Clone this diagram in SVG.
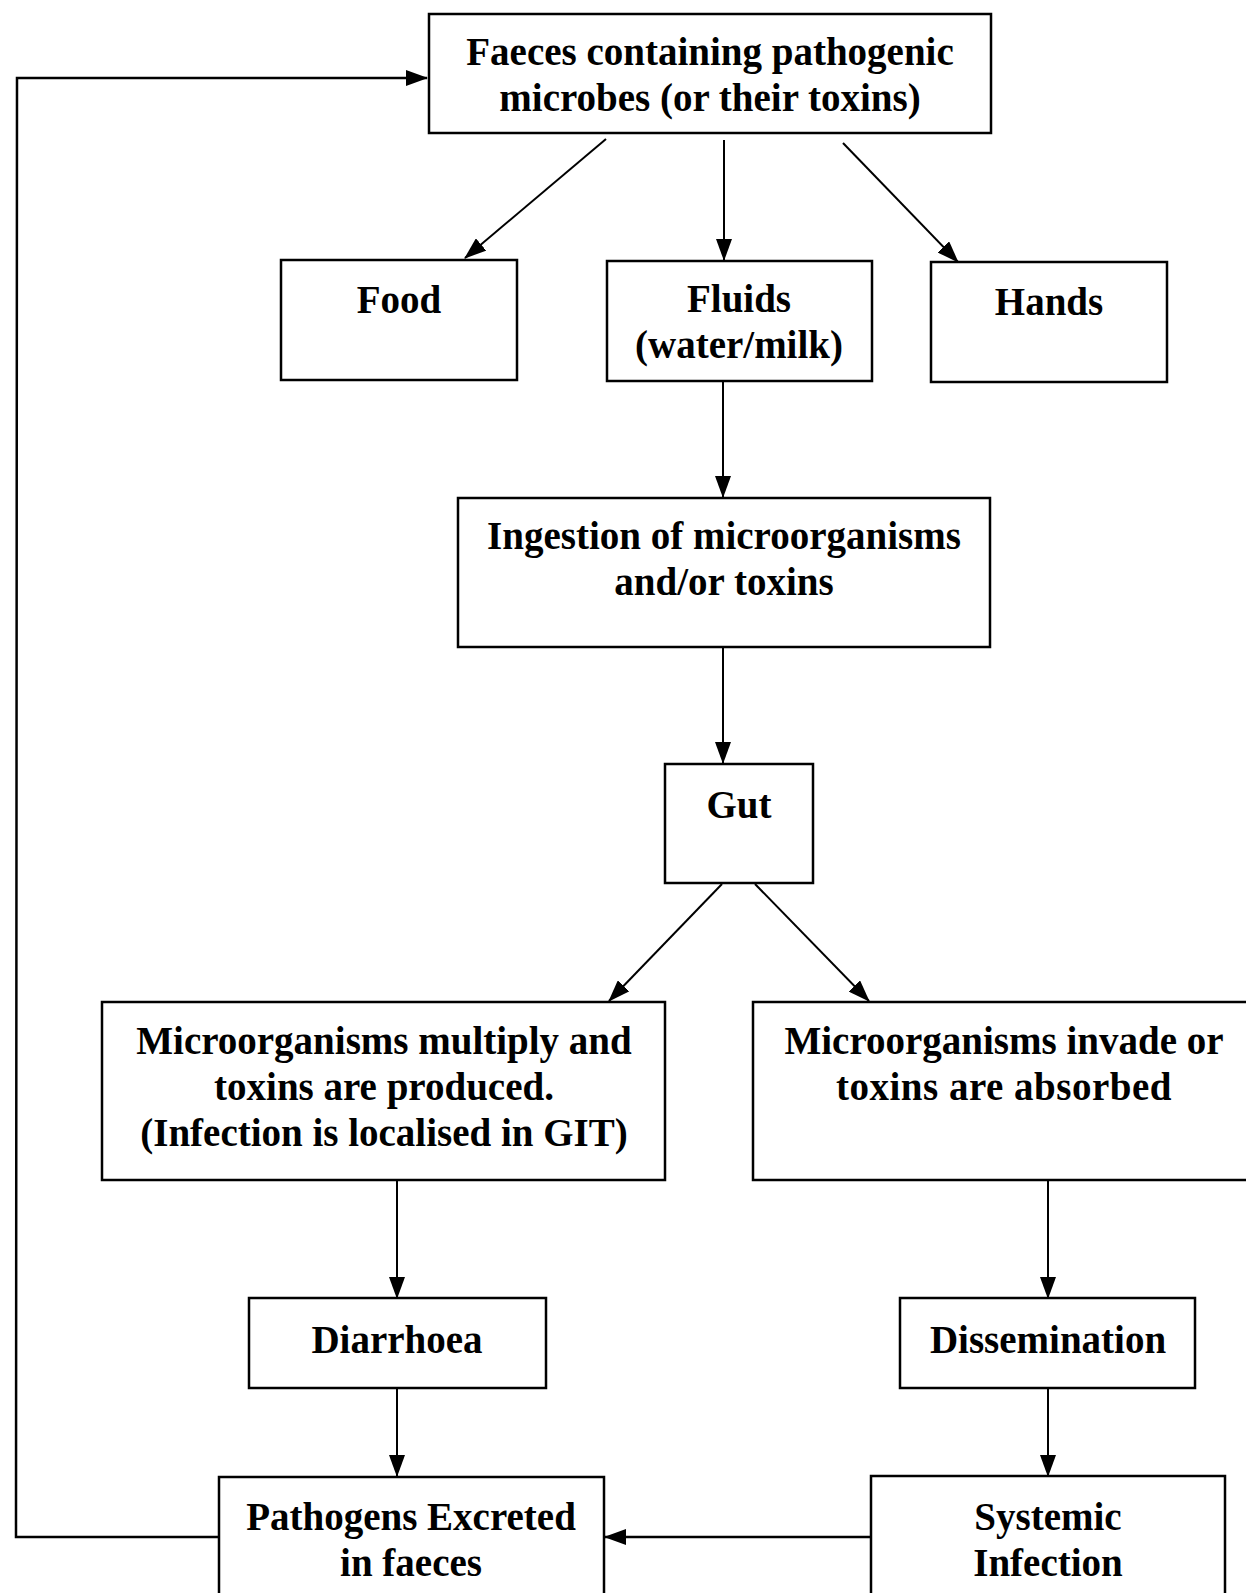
<svg xmlns="http://www.w3.org/2000/svg" width="1246" height="1593" viewBox="0 0 1246 1593">
<style>
.box{fill:#fff;stroke:#000;stroke-width:2.5}
.t{font-family:"Liberation Serif","Times New Roman",serif;font-weight:bold;font-size:39px;fill:#000;text-anchor:middle}
.c{fill:none;stroke:#000;stroke-width:2}
</style>
<defs>
<marker id="ah" markerUnits="userSpaceOnUse" markerWidth="22" markerHeight="16" refX="21" refY="8" orient="auto">
<path d="M0,0 L22,8 L0,16 z" fill="#000"/>
</marker>
</defs>
<rect width="1246" height="1593" fill="#fff"/>
<g id="connectors">
<polyline class="c" points="219,1537 16,1537 17,78 427,78" marker-end="url(#ah)" style="stroke-width:2.5"/>
<line class="c" x1="606" y1="139" x2="465" y2="258" marker-end="url(#ah)"/>
<line class="c" x1="724" y1="140" x2="724" y2="260" marker-end="url(#ah)"/>
<line class="c" x1="843" y1="143" x2="958" y2="262" marker-end="url(#ah)"/>
<line class="c" x1="723" y1="381" x2="723" y2="497" marker-end="url(#ah)"/>
<line class="c" x1="723" y1="647" x2="723" y2="763" marker-end="url(#ah)"/>
<line class="c" x1="722" y1="884" x2="609" y2="1001" marker-end="url(#ah)"/>
<line class="c" x1="755" y1="884" x2="869" y2="1001" marker-end="url(#ah)"/>
<line class="c" x1="397" y1="1180" x2="397" y2="1298" marker-end="url(#ah)"/>
<line class="c" x1="1048" y1="1180" x2="1048" y2="1298" marker-end="url(#ah)"/>
<line class="c" x1="397" y1="1388" x2="397" y2="1476" marker-end="url(#ah)"/>
<line class="c" x1="1048" y1="1388" x2="1048" y2="1476" marker-end="url(#ah)"/>
<line class="c" x1="871" y1="1537" x2="605" y2="1537" marker-end="url(#ah)" style="stroke-width:2.5"/>
</g>
<g id="faeces">
<rect class="box" x="429" y="14" width="562" height="119"/>
<text class="t" x="710" y="65">Faeces containing pathogenic</text>
<text class="t" x="710" y="111">microbes (or their toxins)</text>
</g>
<g id="food">
<rect class="box" x="281" y="260" width="236" height="120"/>
<text class="t" x="399" y="313">Food</text>
</g>
<g id="fluids">
<rect class="box" x="607" y="261" width="265" height="120"/>
<text class="t" x="739" y="312">Fluids</text>
<text class="t" x="739" y="358">(water/milk)</text>
</g>
<g id="hands">
<rect class="box" x="931" y="262" width="236" height="120"/>
<text class="t" x="1049" y="315">Hands</text>
</g>
<g id="ingestion">
<rect class="box" x="458" y="498" width="532" height="149"/>
<text class="t" x="724" y="549">Ingestion of microorganisms</text>
<text class="t" x="724" y="595">and/or toxins</text>
</g>
<g id="gut">
<rect class="box" x="665" y="764" width="148" height="119"/>
<text class="t" x="739" y="818">Gut</text>
</g>
<g id="multiply">
<rect class="box" x="102" y="1002" width="563" height="178"/>
<text class="t" x="384" y="1054">Microorganisms multiply and</text>
<text class="t" x="384" y="1100">toxins are produced.</text>
<text class="t" x="384" y="1146">(Infection is localised in GIT)</text>
</g>
<g id="invade">
<rect class="box" x="753" y="1002" width="500" height="178"/>
<text class="t" x="1004" y="1054">Microorganisms invade or</text>
<text class="t" x="1004" y="1100" style="letter-spacing:0.5px">toxins are absorbed</text>
</g>
<g id="diarrhoea">
<rect class="box" x="249" y="1298" width="297" height="90"/>
<text class="t" x="397" y="1353">Diarrhoea</text>
</g>
<g id="dissemination">
<rect class="box" x="900" y="1298" width="295" height="90"/>
<text class="t" x="1048" y="1353">Dissemination</text>
</g>
<g id="pathogens">
<rect class="box" x="219" y="1477" width="385" height="130"/>
<text class="t" x="411" y="1530">Pathogens Excreted</text>
<text class="t" x="411" y="1576">in faeces</text>
</g>
<g id="systemic">
<rect class="box" x="871" y="1476" width="354" height="130"/>
<text class="t" x="1048" y="1530">Systemic</text>
<text class="t" x="1048" y="1576">Infection</text>
</g>
</svg>
